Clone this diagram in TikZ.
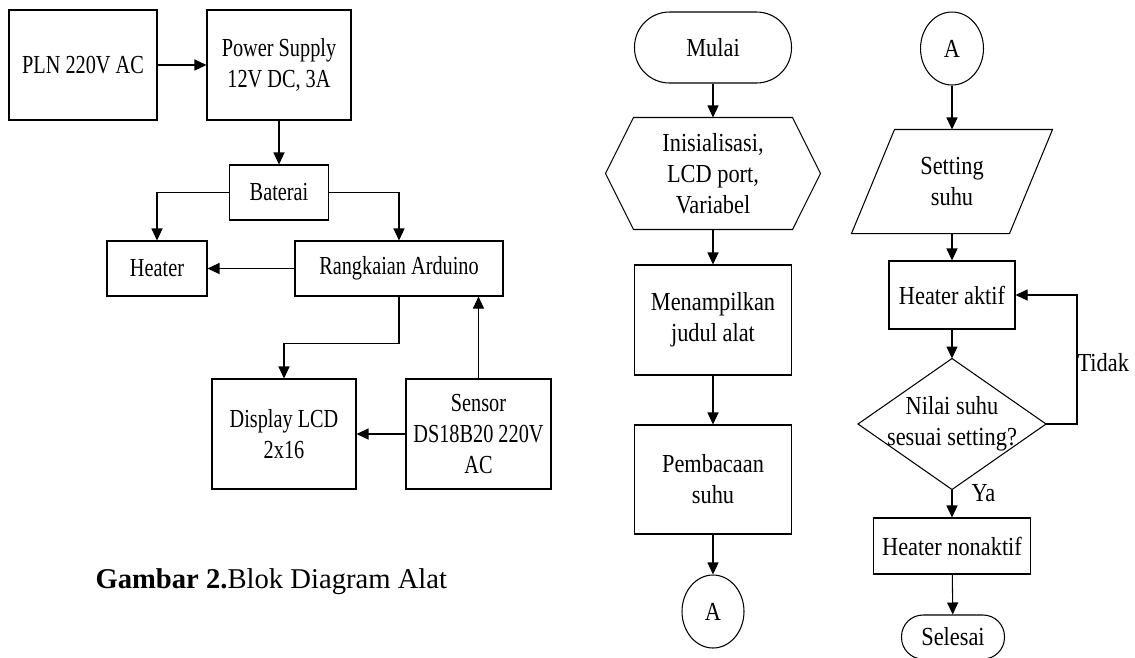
\documentclass[tikz,border=0pt]{standalone}
\usepackage{fontspec}
\setmainfont{Liberation Serif}
\newfontfamily\blokfont[FakeStretch=0.78]{Liberation Serif}
\newfontfamily\alirfont[FakeStretch=0.86]{Liberation Serif}
\usetikzlibrary{shapes,arrows.meta}

\begin{document}
\begin{tikzpicture}[x=0.02cm, y=-0.02cm, line width=0.6pt, >={Triangle[length=0.24cm,width=0.22cm]}]
				\tikzstyle{every node}=[inner sep=0pt, align=center];
				\tikzstyle{blok}=[draw, font={\blokfont\fontsize{14.8pt}{17.6pt}\selectfont}];
				\tikzstyle{alir}=[font={\alirfont\fontsize{14.8pt}{17.6pt}\selectfont}];
				\tikzstyle{kotak}=[alir, draw];
				\useasboundingbox (0,0) rectangle (1135,657);
				\node [blok, minimum width=2.96cm, minimum height=2.2cm] (pln) at (83,65) {PLN 220V AC};
				\node [blok, minimum width=2.88cm, minimum height=2.2cm] (psu) at (279,65) {Power Supply\\12V DC, 3A};
				\node [blok, minimum width=1.98cm, minimum height=1.1cm] (bat) at (279,192.5) {Baterai};
				\node [blok, minimum width=2.0cm, minimum height=1.1cm] (heat) at (157,268.5) {Heater};
				\node [blok, minimum width=4.16cm, minimum height=1.1cm] (ard) at (399,268.5) {Rangkaian Arduino};
				\node [blok, minimum width=2.88cm, minimum height=2.2cm] (lcd) at (284,434) {Display LCD\\2x16};
				\node [blok, minimum width=2.9cm, minimum height=2.2cm] (sens) at (478.5,434) {Sensor\\DS18B20 220V\\AC};
				\draw[->] (pln) -- (psu);
				\draw[->] (psu) -- (bat);
				\draw[->] (bat) -| (heat);
				\draw[->] (bat) -| (ard);
				\draw[->] (ard) -- (heat);
				\draw[->] (ard.south) -- ++(0,47) -| (lcd);
				\draw[->] (sens) -- (sens |- ard.south);
				\draw[->] (sens) -- (lcd);
				\node [anchor=base west, font={\fontsize{16.3pt}{19pt}\selectfont}] (namagbr) at (95,588) {\textbf{Gambar 2.}Blok Diagram Alat};
				\node [kotak, rounded corners=0.7cm, minimum width=3.14cm, minimum height=1.42cm] (mulai) at (713,47.5) {Mulai};
				\node [alir, minimum width=4.28cm, minimum height=2.22cm] (init) at (713,173.5) {Inisialisasi,\\LCD port,\\Variabel};
				\draw (init.west) -- ([xshift=0.56cm]init.north west) -- ([xshift=-0.56cm]init.north east) -- (init.east) -- ([xshift=-0.56cm]init.south east) -- ([xshift=0.56cm]init.south west) -- cycle;
				\node [kotak, minimum width=3.14cm, minimum height=2.2cm] (judul) at (713,320) {Menampilkan\\judul alat};
				\node [kotak, minimum width=3.14cm, minimum height=2.18cm] (baca) at (713,479.5) {Pembacaan\\suhu};
				\node [kotak, shape=ellipse, minimum width=1.24cm, minimum height=1.46cm] (conA1) at (713,611.5) {A};
				\draw[->] (mulai) -- (init);
				\draw[->] (init) -- (judul);
				\draw[->] (judul) -- (baca);
				\draw[->] (baca) -- (conA1);
				\node [kotak, shape=ellipse, minimum width=1.26cm, minimum height=1.46cm] (conA2) at (952,48.5) {A};
				\node [alir, minimum width=4cm, minimum height=2.06cm] (set) at (952,181.5) {Setting\\suhu};
				\draw ([xshift=0.86cm]set.north west) -- (set.north east) -- ([xshift=-0.86cm]set.south east) -- (set.south west) -- cycle;
				\node [kotak, minimum width=2.52cm, minimum height=1.36cm] (aktif) at (952,295) {Heater aktif};
				\node [alir, minimum width=3.74cm, minimum height=2.6cm] (cek) at (952,424) {Nilai suhu\\sesuai setting?};
				\draw (cek.north) -- (cek.east) -- (cek.south) -- (cek.west) -- cycle;
				\node [kotak, minimum width=3.14cm, minimum height=1.12cm] (nonaktif) at (952,546) {Heater nonaktif};
				\node [kotak, rounded corners=0.43cm, minimum width=2.06cm, minimum height=0.88cm] (selesai) at (953,637) {Selesai};
				\draw[->] (conA2) -- (set);
				\draw[->] (set) -- (aktif);
				\draw[->] (aktif) -- (cek);
				\draw[->] (cek.east) -- ++(31,0) |- (aktif);
				\draw[->] (cek) -- (nonaktif);
				\draw[->] (nonaktif) -- (selesai);
				\node [alir, anchor=west] (tidak) at (1077,363) {Tidak};
				\node [alir, anchor=west] (ya) at (971,493) {Ya};
			\end{tikzpicture}
\end{document}
